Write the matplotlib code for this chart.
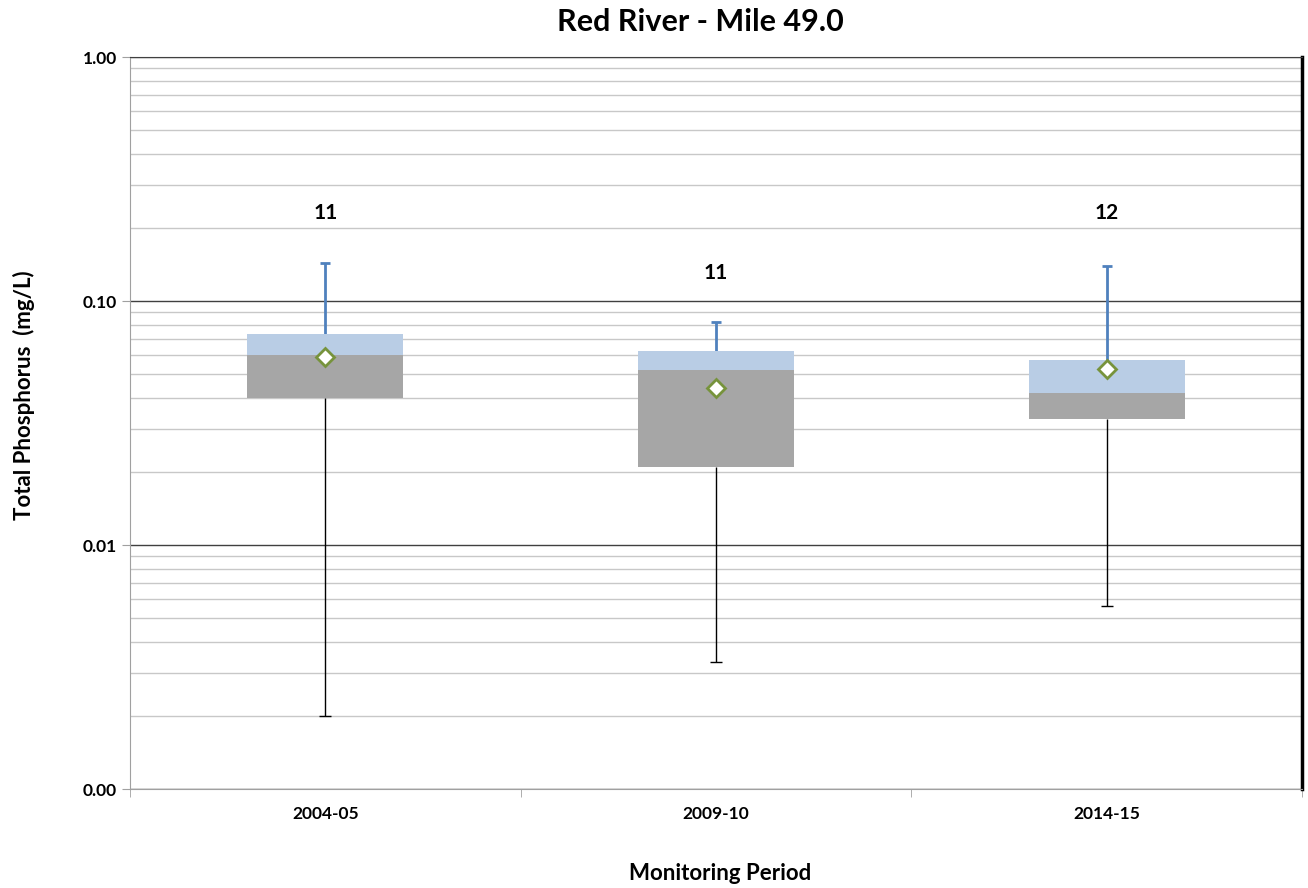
"""Red River - Mile 49.0 total phosphorus box plot."""

import matplotlib

matplotlib.use("Agg")
import matplotlib.pyplot as plt
from matplotlib.ticker import FixedLocator, LogLocator, NullFormatter

periods = ["2004-05", "2009-10", "2014-15"]
q1 = [0.0402, 0.0208, 0.0327]
median = [0.0603, 0.0523, 0.0418]
q3 = [0.0735, 0.0626, 0.0575]
whisker_low = [0.0020, 0.0033, 0.0056]
whisker_high = [0.1435, 0.0823, 0.1395]
means = [0.0592, 0.0442, 0.0528]
counts = [11, 11, 12]
count_y = [0.23, 0.13, 0.23]

ytick_values = [0.001, 0.01, 0.1, 1.0]
ytick_labels = ["0.00", "0.01", "0.10", "1.00"]

plt.rcParams["font.family"] = ["Lato", "DejaVu Sans"]

fig = plt.figure(figsize=(13.08, 8.88), dpi=100)
ax = fig.add_axes([130 / 1308, 1 - 789 / 888, (1302 - 130) / 1308, (789 - 57) / 888])

x = list(range(len(periods)))
width = 0.40
lower_h = [m - a for a, m in zip(q1, median)]
upper_h = [b - m for m, b in zip(median, q3)]

ax.set_yscale("log")
ax.set_ylim(0.001, 1.0)
ax.set_xlim(-0.5, len(periods) - 0.5)

ax.bar(x, lower_h, bottom=q1, width=width, color="#a6a6a6", zorder=3)
ax.bar(x, upper_h, bottom=median, width=width, color="#b9cde5", zorder=3)

ax.vlines(x, q3, whisker_high, color="#4f81bd", lw=2, zorder=2)
ax.hlines(whisker_high, [i - 0.013 for i in x], [i + 0.013 for i in x],
          color="#4f81bd", lw=2, zorder=2)
ax.vlines(x, whisker_low, q1, color="black", lw=1, zorder=2)
ax.hlines(whisker_low, [i - 0.015 for i in x], [i + 0.015 for i in x],
          color="black", lw=1, zorder=2)

ax.plot(x, means, "D", ms=9, mfc="white", mec="#77933c", mew=2, zorder=4, ls="none")

for i, (n, yy) in enumerate(zip(counts, count_y)):
    ax.text(i, yy, str(n), ha="center", va="center", fontsize=15, fontweight="bold")

ax.yaxis.set_major_locator(FixedLocator(ytick_values))
ax.set_yticklabels(ytick_labels)
ax.yaxis.set_minor_locator(LogLocator(base=10, subs=range(2, 10)))
ax.yaxis.set_minor_formatter(NullFormatter())
ax.grid(True, which="major", axis="y", color="#404040", lw=1, zorder=0)
ax.grid(True, which="minor", axis="y", color="#c8c8c8", lw=1, zorder=0)
ax.tick_params(axis="y", which="minor", length=0)
ax.tick_params(axis="y", which="major", length=6, color="#a0a0a0", labelsize=12.5)

ax.set_xticks(x)
ax.set_xticklabels(periods, fontsize=12.5, fontweight="bold")
ax.set_xticks([-0.5, 0.5, 1.5, 2.5], minor=True)
ax.tick_params(axis="x", which="major", length=0, pad=12)
ax.tick_params(axis="x", which="minor", length=6, color="#a0a0a0")
for lab in ax.get_yticklabels():
    lab.set_fontweight("bold")

ax.spines["left"].set_color("#a0a0a0")
ax.spines["bottom"].set_color("#a0a0a0")
ax.spines["top"].set_color("#404040")
ax.spines["right"].set_color("black")
ax.spines["right"].set_linewidth(2.5)

fig.text(700 / 1308, 1 - 22 / 888, "Red River - Mile 49.0", ha="center", va="center",
         fontsize=22, fontweight="bold")
fig.text(720 / 1308, 1 - 873 / 888, "Monitoring Period", ha="center", va="center",
         fontsize=16, fontweight="bold")
fig.text(24 / 1308, 1 - 395 / 888, "Total Phosphorus  (mg/L)", ha="center", va="center",
         rotation=90, fontsize=16, fontweight="bold")

fig.savefig("out.png", dpi=100)
